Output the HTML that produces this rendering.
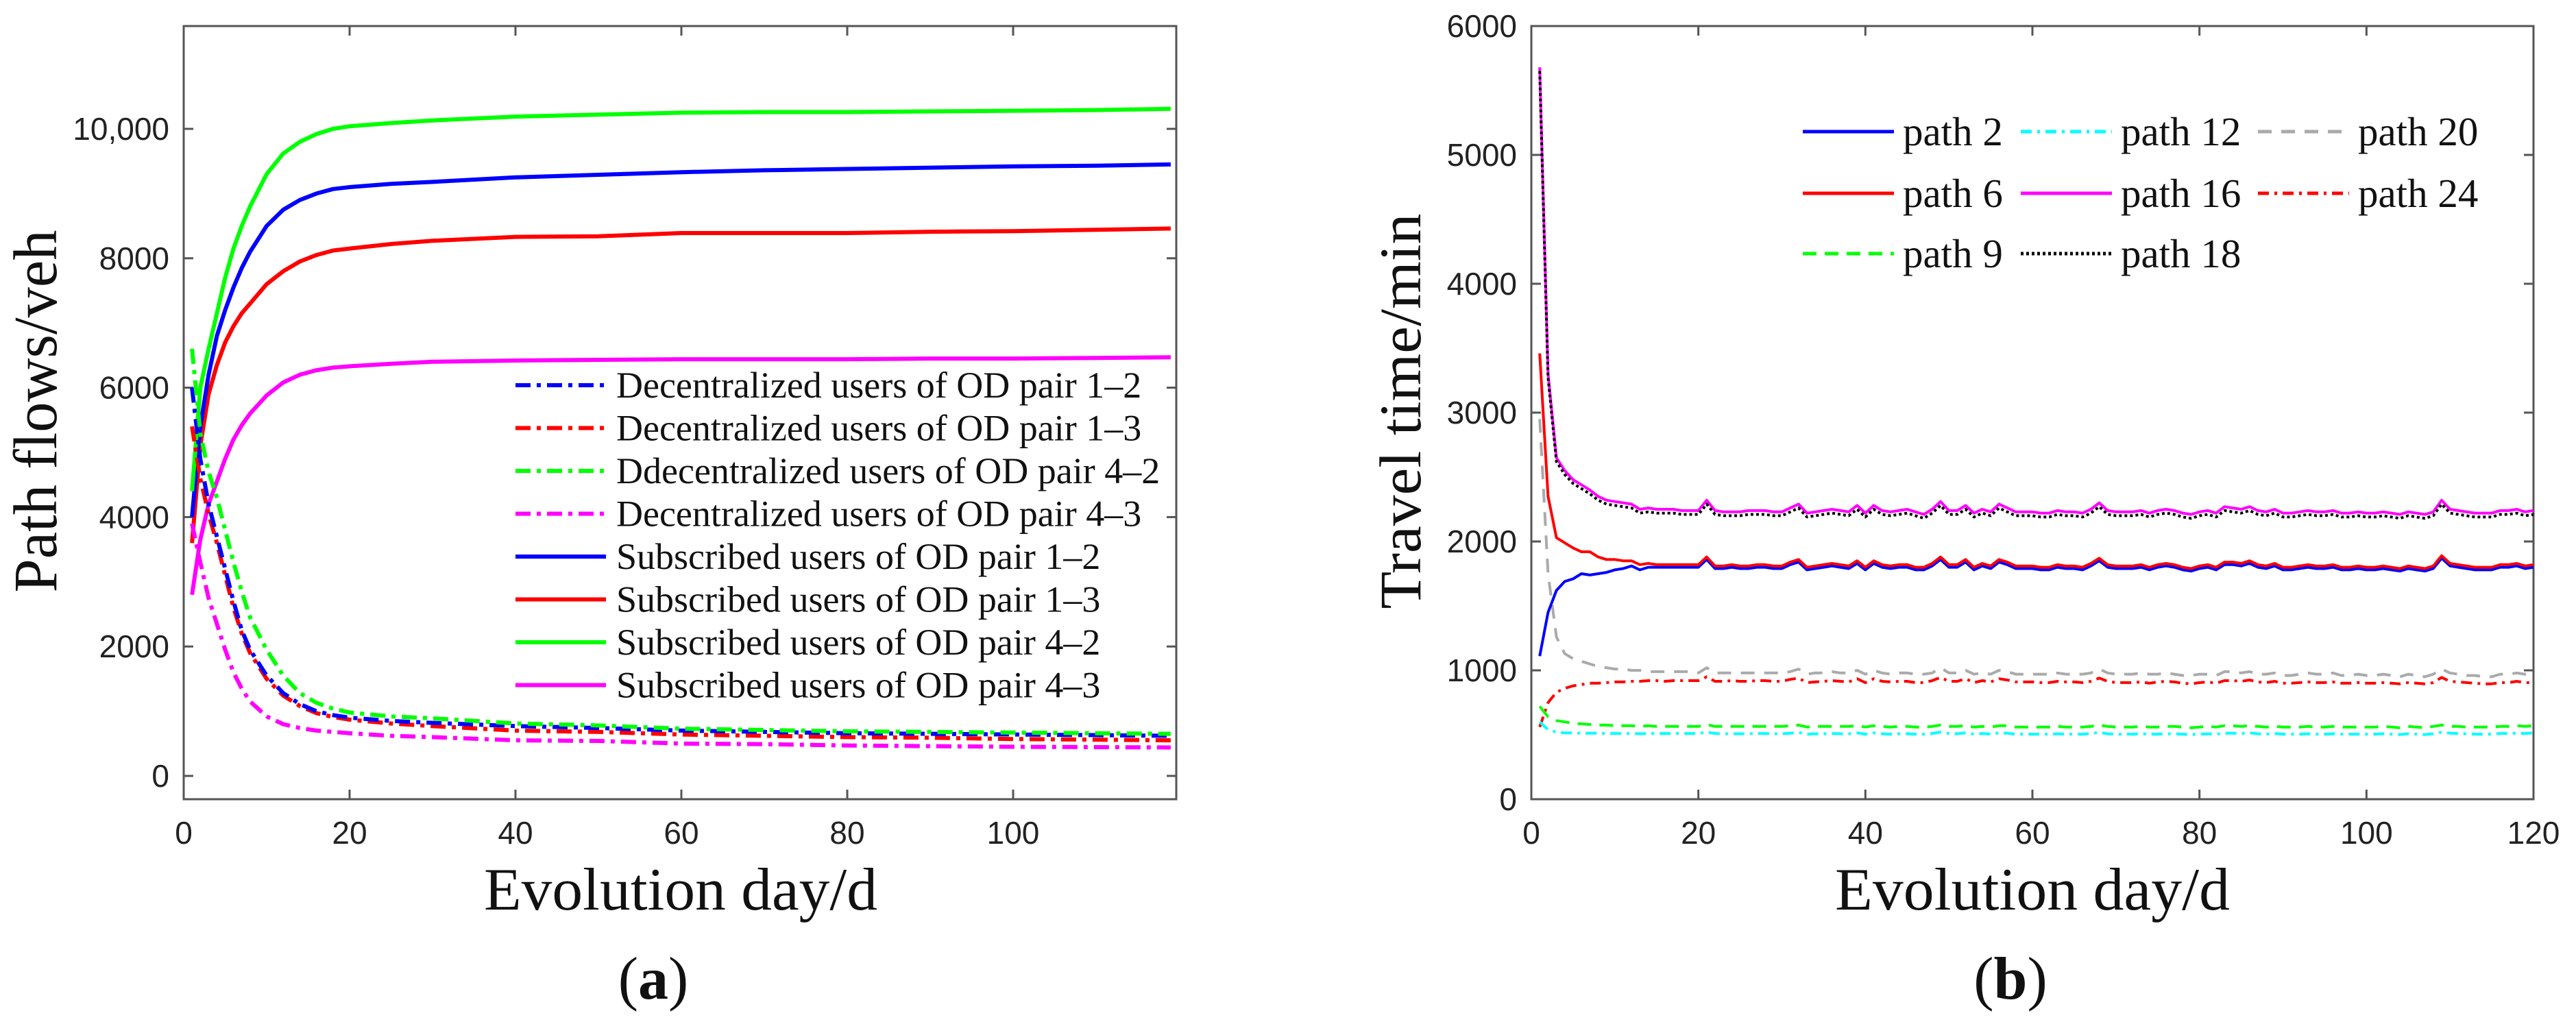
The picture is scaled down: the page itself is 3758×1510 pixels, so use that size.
<!DOCTYPE html>
<html><head><meta charset="utf-8"><style>
html,body{margin:0;padding:0;background:#fff}
svg{display:block}
text{fill:#222}
.tick{font-family:"Liberation Sans",sans-serif;font-size:46px}
.serif{font-family:"Liberation Serif",serif;fill:#111}
</style></head><body>
<svg id="fig" width="3758" height="1510" viewBox="0 0 3758 1510" xmlns="http://www.w3.org/2000/svg">
<g id="pa"></g>
<g id="pb"></g>
<text class="serif" x="953" y="1457" font-size="88" text-anchor="middle">(<tspan font-weight="bold">a</tspan>)</text>
<text class="serif" x="2933" y="1457" font-size="88" text-anchor="middle">(<tspan font-weight="bold">b</tspan>)</text>
</svg>
<script>
// ---------- Panel (a) data ----------
const daysA = [1,2,3,4,5,6,7,8,10,12,14,16,18,20,25,30,40,50,60,70,80,90,100,110,119];
const subGreen = [4400,6000,6600,7150,7700,8150,8500,8800,9300,9620,9800,9920,10000,10040,10090,10130,10190,10220,10250,10260,10260,10270,10280,10290,10310];
const subBlue = [4000,5400,6200,6800,7200,7550,7850,8100,8500,8750,8900,9000,9070,9100,9150,9180,9250,9290,9330,9360,9380,9400,9420,9430,9450];
const subRed = [3600,5100,5900,6350,6700,6950,7150,7300,7600,7800,7950,8050,8120,8150,8220,8270,8330,8340,8390,8390,8390,8410,8420,8440,8460];
const subMagenta = [2800,3650,4200,4550,4900,5200,5420,5600,5880,6080,6200,6270,6310,6330,6370,6400,6420,6430,6440,6440,6440,6450,6450,6460,6470];
const decBlue = [6000,4900,4200,3700,3200,2700,2250,1950,1550,1280,1110,1000,940,900,850,820,770,740,700,680,660,650,640,630,620];
const decGreen = [6600,5300,4700,4300,3800,3300,2850,2450,1950,1550,1280,1130,1040,980,920,890,810,780,730,710,690,680,670,660,650];
const decRed = [5400,4600,4050,3600,3100,2600,2200,1900,1500,1240,1080,970,910,870,810,770,700,680,640,620,600,590,570,560,550];
const decMagenta = [3900,3300,2750,2350,1950,1600,1350,1150,920,800,740,700,680,660,620,600,550,540,500,490,470,460,450,445,440];
const xTicksA = [0,20,40,60,80,100];
const yTicksA = [0,2000,4000,6000,8000,10000];
const yTickLabelsA = ["0","2000","4000","6000","8000","10,000"];
const legendA = ["Decentralized users of OD pair 1\u20132","Decentralized users of OD pair 1\u20133","Ddecentralized users of OD pair 4\u20132","Decentralized users of OD pair 4\u20133","Subscribed users of OD pair 1\u20132","Subscribed users of OD pair 1\u20133","Subscribed users of OD pair 4\u20132","Subscribed users of OD pair 4\u20133"];

// ---------- Panel (b) data ----------
const path16 = [5680,3300,2650,2550,2480,2440,2400,2350,2320,2310,2300,2290,2250,2260,2250,2250,2250,2240,2240,2240,2320,2240,2230,2230,2230,2240,2240,2240,2230,2230,2260,2290,2220,2230,2240,2250,2240,2230,2280,2220,2280,2240,2230,2240,2250,2230,2210,2250,2310,2240,2240,2280,2220,2250,2230,2290,2260,2230,2230,2230,2220,2220,2240,2230,2230,2220,2250,2300,2240,2230,2230,2230,2240,2220,2240,2250,2240,2220,2210,2230,2240,2220,2270,2260,2250,2270,2240,2230,2250,2220,2220,2230,2240,2230,2230,2240,2220,2220,2230,2220,2220,2230,2220,2210,2230,2220,2210,2230,2320,2250,2240,2230,2220,2220,2220,2240,2240,2250,2230,2240];
const path18 = [5650,3270,2620,2520,2450,2410,2370,2320,2290,2280,2270,2260,2220,2230,2220,2220,2220,2210,2210,2210,2290,2210,2200,2200,2200,2210,2210,2210,2200,2200,2230,2260,2190,2200,2210,2220,2210,2200,2250,2190,2250,2210,2200,2210,2220,2200,2180,2220,2280,2210,2210,2250,2190,2220,2200,2260,2230,2200,2200,2200,2190,2190,2210,2200,2200,2190,2220,2270,2210,2200,2200,2200,2210,2190,2210,2220,2210,2190,2180,2200,2210,2190,2240,2230,2220,2240,2210,2200,2220,2190,2190,2200,2210,2200,2200,2210,2190,2190,2200,2190,2190,2200,2190,2180,2200,2190,2180,2200,2290,2220,2210,2200,2190,2190,2190,2210,2210,2220,2200,2210];
const path6 = [3460,2350,2030,1990,1950,1920,1920,1880,1860,1860,1850,1850,1820,1830,1820,1820,1820,1820,1820,1820,1880,1810,1810,1820,1810,1810,1820,1820,1810,1810,1840,1860,1800,1810,1820,1830,1820,1810,1850,1800,1850,1820,1810,1820,1820,1800,1800,1830,1880,1820,1820,1860,1800,1830,1810,1860,1840,1810,1810,1810,1800,1800,1820,1810,1810,1800,1830,1870,1820,1810,1810,1810,1820,1800,1820,1830,1820,1800,1790,1810,1820,1800,1840,1840,1830,1850,1820,1810,1830,1800,1800,1810,1820,1810,1810,1820,1800,1800,1810,1800,1800,1810,1800,1790,1810,1800,1790,1810,1890,1830,1820,1810,1800,1800,1800,1820,1820,1830,1810,1820];
const path2 = [1110,1450,1620,1690,1710,1750,1740,1750,1760,1780,1790,1810,1780,1800,1800,1800,1800,1800,1800,1800,1860,1790,1790,1800,1790,1790,1800,1800,1790,1790,1820,1840,1780,1790,1800,1810,1800,1790,1830,1780,1830,1800,1790,1800,1800,1780,1780,1810,1860,1800,1800,1840,1780,1810,1790,1840,1820,1790,1790,1790,1780,1780,1800,1790,1790,1780,1810,1850,1800,1790,1790,1790,1800,1780,1800,1810,1800,1780,1770,1790,1800,1780,1820,1820,1810,1830,1800,1790,1810,1780,1780,1790,1800,1790,1790,1800,1780,1780,1790,1780,1780,1790,1780,1770,1790,1780,1770,1790,1870,1810,1800,1790,1780,1780,1780,1800,1800,1810,1790,1800];
const path20 = [2950,1750,1260,1130,1090,1070,1050,1030,1020,1010,1010,1000,1000,990,990,990,990,990,990,980,1020,980,980,980,980,980,980,980,980,980,990,1010,970,980,980,990,980,980,1000,970,1000,980,970,980,980,970,970,980,1020,980,980,1000,970,980,970,1000,990,970,970,970,970,970,980,970,970,970,980,1010,980,970,970,970,980,970,970,980,970,960,960,970,970,960,990,990,980,990,970,970,980,960,960,970,980,970,970,980,960,960,970,960,960,970,960,950,970,960,950,970,1010,980,970,960,960,950,950,970,970,980,970,990];
const path24 = [560,750,830,860,880,890,900,900,905,910,910,915,915,920,920,915,920,920,920,920,950,915,915,920,915,915,920,920,915,915,930,940,905,910,915,920,915,910,935,905,935,915,910,915,915,905,905,920,945,915,915,935,905,920,910,935,925,910,910,910,905,905,915,910,910,905,915,940,915,905,905,905,910,900,910,915,910,900,895,905,910,900,920,920,915,925,910,905,915,900,900,905,910,905,905,910,900,900,905,900,900,905,900,895,905,900,895,905,945,915,910,905,900,895,895,905,905,915,905,905];
const path9 = [720,640,610,600,590,585,580,575,575,570,570,570,565,570,565,565,565,565,565,565,580,565,565,565,565,565,565,565,565,565,570,575,560,565,565,565,565,565,570,560,570,565,560,565,565,560,560,565,575,565,565,570,560,565,560,570,570,560,560,560,560,560,565,560,560,560,565,575,565,560,560,560,565,560,560,565,565,560,555,560,565,560,570,570,565,570,565,560,565,560,560,560,565,560,560,565,560,560,560,560,560,565,560,555,565,560,555,565,575,565,565,560,560,560,560,565,565,570,565,570];
const path12 = [600,540,520,515,515,512,512,512,510,510,510,510,508,510,510,510,510,510,510,510,520,510,508,508,508,508,510,510,508,508,512,518,505,508,508,510,508,508,515,505,515,508,505,508,508,505,505,510,520,510,508,515,505,510,505,515,512,505,505,505,505,505,508,505,505,505,510,518,508,505,505,505,508,505,505,508,508,505,502,505,508,505,512,512,510,515,508,505,510,505,505,505,508,505,505,508,505,505,505,505,505,508,505,502,508,505,502,508,520,512,510,508,505,505,505,510,510,512,510,515];
const xTicksB = [0,20,40,60,80,100,120];
const yTicksB = [0,1000,2000,3000,4000,5000,6000];
const legendB = ["path 2","path 12","path 20","path 6","path 16","path 24","path 9","path 18"];

const NS = "http://www.w3.org/2000/svg";
function mk(parent, tag, attrs){
  const e = document.createElementNS(NS, tag);
  for (const k in attrs) e.setAttribute(k, attrs[k]);
  parent.appendChild(e);
  return e;
}
// axis functions
const xA = d => 268 + d * 12.1;
const yA = v => 1132 - v * 0.0944;
const xB = d => 2234 + d * (1462/120);
const yB = v => 1166 - v * 0.188;

function frame(g, x0, x1, y0, y1, xt, xs, yt, ys, ylab, xlabX, ylabX){
  const box = mk(g, "rect", {x:x0, y:y0, width:x1-x0, height:y1-y0, fill:"none", stroke:"#555", "stroke-width":3});
  
  
  xt.forEach(t => {
    const x = xs(t);
    if (x > x0 + 2 && x < x1 - 2) {
      const a = mk(g, "line", {x1:x, x2:x, y1:y1, y2:y1-14, stroke:"#555", "stroke-width":3});
      
      
      const b = mk(g, "line", {x1:x, x2:x, y1:y0, y2:y0+14, stroke:"#555", "stroke-width":3});
      
      
    }
    const tl = mk(g, "text", {x:x, y:1231, "text-anchor":"middle", class:"tick"});
    tl.textContent = String(t);
    
    
  });
  yt.forEach((t, i) => {
    const y = ys(t);
    if (y > y0 + 2 && y < y1 - 2) {
      const a = mk(g, "line", {x1:x0, x2:x0+14, y1:y, y2:y, stroke:"#555", "stroke-width":3});
      
      
      const b = mk(g, "line", {x1:x1, x2:x1-14, y1:y, y2:y, stroke:"#555", "stroke-width":3});
      
      
    }
    const tl = mk(g, "text", {x:ylabX, y:y+16, "text-anchor":"end", class:"tick"});
    tl.textContent = ylab ? ylab[i] : String(t);
    
    
  });
}
function series(g, xs, ys, days, vals, color, w, dash, name){
  const pts = vals.map((v, i) => xs(days[i]).toFixed(1) + "," + ys(v).toFixed(1)).join(" ");
  const p = mk(g, "polyline", {points:pts, fill:"none", stroke:color, "stroke-width":w, "stroke-linejoin":"round"});
  if (dash) p.setAttribute("stroke-dasharray", dash);
  
  
}

// ---------- Panel (a) ----------
const ga = document.getElementById("pa");
frame(ga, 268, 1716, 38, 1166, xTicksA, xA, yTicksA, yA, yTickLabelsA, null, 247);
const DD = "22,9,6,9";
series(ga, xA, yA, daysA, subMagenta, "#ff00ff", 6, null, "line-subscribed-4-3");
series(ga, xA, yA, daysA, subRed, "#ff0000", 6, null, "line-subscribed-1-3");
series(ga, xA, yA, daysA, subBlue, "#0000ff", 6, null, "line-subscribed-1-2");
series(ga, xA, yA, daysA, subGreen, "#00ff00", 6, null, "line-subscribed-4-2");
series(ga, xA, yA, daysA, decMagenta, "#ff00ff", 6, DD, "line-decentralized-4-3");
series(ga, xA, yA, daysA, decRed, "#ff0000", 6, DD, "line-decentralized-1-3");
series(ga, xA, yA, daysA, decBlue, "#0000ff", 6, DD, "line-decentralized-1-2");
series(ga, xA, yA, daysA, decGreen, "#00ff00", 6, DD, "line-decentralized-4-2");
const legColA = ["#0000ff","#ff0000","#00ff00","#ff00ff","#0000ff","#ff0000","#00ff00","#ff00ff"];
legendA.forEach((lab, i) => {
  const y = 562 + i * 62.5;
  const ln = mk(ga, "line", {x1:752, x2:884, y1:y, y2:y, stroke:legColA[i], "stroke-width":6});
  if (i < 4) ln.setAttribute("stroke-dasharray", DD);
  
  
  const t = mk(ga, "text", {x:899, y:y+18, "font-size":54, class:"serif"});
  t.textContent = lab;
  
  
});
const xla = mk(ga, "text", {x:993, y:1327, "font-size":88, "text-anchor":"middle", class:"serif", textLength:574, lengthAdjust:"spacingAndGlyphs"});
xla.textContent = "Evolution day/d";


const yla = mk(ga, "text", {transform:"translate(82,600) rotate(-90)", "font-size":90, "text-anchor":"middle", class:"serif", textLength:529, lengthAdjust:"spacingAndGlyphs"});
yla.textContent = "Path flows/veh";



// ---------- Panel (b) ----------
const gb = document.getElementById("pb");
frame(gb, 2234, 3696, 38, 1166, xTicksB, xB, yTicksB, yB, null, null, 2213);
const daysB = path16.map((_, i) => i + 1);
const styleB = [
  [path20, "#aaaaaa", 4, "20,14", "line-path-20"],
  [path24, "#ff0000", 4, "16,8,4,8", "line-path-24"],
  [path9, "#00ff00", 4, "20,12", "line-path-9"],
  [path12, "#00ffff", 4, "16,8,4,8", "line-path-12"],
  [path2, "#0000ff", 4, null, "line-path-2"],
  [path6, "#ff0000", 4, null, "line-path-6"],
  [path16, "#ff00ff", 4, null, "line-path-16"],
  [path18, "#000000", 4, "4,4", "line-path-18"]
];
styleB.forEach(s => series(gb, xB, yB, daysB, s[0], s[1], s[2], s[3], s[4]));
const legStyleB = [["#0000ff",null],["#00ffff","16,8,4,8"],["#aaaaaa","20,14"],["#ff0000",null],["#ff00ff",null],["#ff0000","16,8,4,8"],["#00ff00","20,12"],["#000000","4,4"]];
const colLine = [2630, 2948, 3294];
const rowY = [192, 282, 370];
legendB.forEach((lab, i) => {
  const c = i % 3, r = Math.floor(i / 3);
  const y = rowY[r];
  const ln = mk(gb, "line", {x1:colLine[c], x2:colLine[c]+133, y1:y, y2:y, stroke:legStyleB[i][0], "stroke-width":5});
  if (legStyleB[i][1]) ln.setAttribute("stroke-dasharray", legStyleB[i][1]);
  
  
  const t = mk(gb, "text", {x:colLine[c]+146, y:y+20, "font-size":59, class:"serif"});
  t.textContent = lab;
  
  
});
const xlb = mk(gb, "text", {x:2965, y:1327, "font-size":88, "text-anchor":"middle", class:"serif", textLength:576, lengthAdjust:"spacingAndGlyphs"});
xlb.textContent = "Evolution day/d";


const ylb = mk(gb, "text", {transform:"translate(2072,600) rotate(-90)", "font-size":86, "text-anchor":"middle", class:"serif", textLength:577, lengthAdjust:"spacingAndGlyphs"});
ylb.textContent = "Travel time/min";


</script>
</body></html>
